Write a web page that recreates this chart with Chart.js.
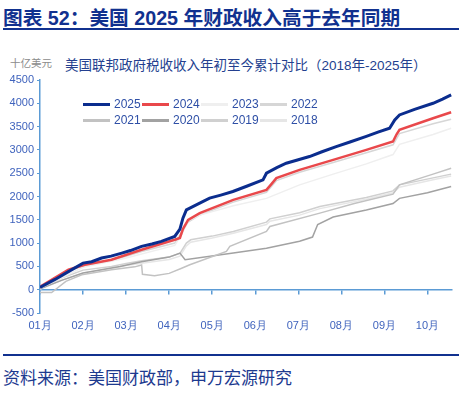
<!DOCTYPE html>
<html>
<head>
<meta charset="utf-8">
<script src="https://cdn.jsdelivr.net/npm/chart.js@4/dist/chart.umd.min.js"></script>
<style>
  body { margin: 0; background: #fff; font-family: "Liberation Sans", "Noto Sans CJK SC", sans-serif; }
  #page { position: relative; width: 463px; height: 393px; overflow: hidden; }
  #title { position: absolute; left: 3px; top: 2px; font-size: 19.7px; font-weight: bold; color: #11318f; white-space: nowrap; }
  .rule { position: absolute; left: 3px; width: 456px; height: 2px; background: #11318f; }
  #unit { position: absolute; left: 10px; top: 55px; font-size: 10.5px; color: #8c8c8c; }
  #subtitle { position: absolute; left: 65px; top: 54px; font-size: 13.5px; color: #243f8f; white-space: nowrap; }
  #chartbox { position: absolute; left: 0; top: 70px; width: 463px; height: 276px; }
  #legend { position: absolute; left: 0; top: 0; }
  .item { position: absolute; display: flex; align-items: center; font-size: 12px; color: #2e4fa6; }
  .item span.sw { display: inline-block; width: 27px; height: 3px; margin-right: 4px; }
  #source { position: absolute; left: 3px; top: 364px; font-size: 17px; color: #1d3a8f; white-space: nowrap; }
</style>
</head>
<body>
<div id="page">
  <div id="title">图表 52：美国 2025 年财政收入高于去年同期</div>
  <div class="rule" style="top:28px"></div>
  <div id="unit">十亿美元</div>
  <div id="subtitle">美国联邦政府税收收入年初至今累计对比（2018年-2025年）</div>
  <div id="chartbox"><canvas id="chart"></canvas></div>
  <div id="legend"></div>
  <div class="rule" style="top:354px"></div>
  <div id="source">资料来源：美国财政部，申万宏源研究</div>
</div>
<script>
// x = months since Jan 1 (0 = 01月, 1 = 02月 ...), y = 十亿美元
const monthLabels = ['01月', '02月', '03月', '04月', '05月', '06月', '07月', '08月', '09月', '10月'];
const years = ['2025', '2024', '2023', '2022', '2021', '2020', '2019', '2018'];

const x2025 = [0, 0.35, 0.74, 1.0, 1.2, 1.43, 1.65, 1.9, 2.1, 2.36, 2.6, 2.82, 3.13, 3.25, 3.32, 3.4, 3.71, 3.94, 4.2, 4.48, 4.8, 5.18, 5.26, 5.5, 5.72, 6.0, 6.26, 6.55, 6.88, 7.2, 7.58, 7.85, 8.12, 8.24, 8.35, 8.7, 9.13, 9.35, 9.55];
const y2025 = [50, 220, 430, 571, 600, 679, 720, 786, 840, 929, 980, 1036, 1143, 1300, 1536, 1714, 1857, 1964, 2030, 2107, 2220, 2357, 2500, 2620, 2714, 2790, 2857, 2960, 3071, 3170, 3290, 3380, 3464, 3643, 3750, 3870, 4000, 4090, 4179];

const x2024 = [0, 0.04, 0.66, 1.04, 1.66, 2.36, 3.13, 3.25, 3.32, 3.44, 3.71, 4.49, 5.26, 5.36, 5.49, 6.03, 6.81, 7.58, 8.2, 8.28, 8.35, 9.13, 9.55];
const y2024 = [40, 86, 429, 536, 643, 857, 1071, 1110, 1300, 1500, 1643, 1929, 2143, 2250, 2393, 2571, 2786, 3000, 3179, 3330, 3429, 3679, 3807];

const x2023 = [0, 1.0, 2.0, 3.13, 3.3, 3.44, 3.71, 4.49, 5.26, 6.03, 6.81, 7.58, 8.2, 8.35, 9.13, 9.55];
const y2023 = [30, 480, 680, 950, 1200, 1480, 1600, 1800, 1960, 2250, 2480, 2700, 2900, 3120, 3330, 3464];

const x2022 = [0, 0.6, 1.0, 1.66, 2.36, 3.13, 3.3, 3.44, 3.71, 4.49, 5.26, 5.49, 6.03, 6.81, 7.58, 8.2, 8.35, 9.13, 9.55];
const y2022 = [30, 380, 510, 620, 820, 1000, 1250, 1450, 1600, 1880, 2090, 2340, 2520, 2730, 2940, 3110, 3350, 3560, 3657];

const x2021 = [0, 0.27, 0.6, 0.97, 1.66, 2.2, 2.36, 2.38, 2.66, 3.0, 3.29, 3.48, 4.33, 4.41, 5.26, 5.34, 6.5, 7.3, 8.2, 8.35, 9.13, 9.55];
const y2021 = [-60, -60, 180, 320, 430, 490, 530, 330, 300, 350, 460, 535, 820, 930, 1250, 1357, 1643, 1850, 2050, 2250, 2480, 2607];

const x2020 = [0, 0.5, 1.0, 1.86, 2.36, 3.0, 3.25, 3.37, 4.49, 5.26, 6.03, 6.33, 6.45, 6.81, 7.58, 8.2, 8.35, 9.0, 9.55];
const y2020 = [20, 200, 360, 500, 600, 700, 786, 643, 790, 890, 1040, 1130, 1400, 1560, 1710, 1850, 1960, 2080, 2214];

const x2019 = [0, 0.5, 1.0, 1.66, 2.0, 2.36, 3.0, 3.25, 3.4, 3.5, 4.0, 4.49, 5.26, 5.34, 6.03, 6.5, 7.58, 8.2, 8.35, 9.13, 9.55];
const y2019 = [20, 250, 420, 500, 560, 620, 700, 780, 1000, 1071, 1150, 1250, 1450, 1520, 1650, 1786, 1980, 2120, 2250, 2400, 2480];

const x2018 = [0, 0.5, 1.0, 1.66, 2.0, 2.36, 3.0, 3.25, 3.4, 3.5, 4.0, 4.49, 5.26, 5.34, 6.03, 6.5, 7.58, 8.2, 8.35, 9.13, 9.55];
const y2018 = [10, 200, 360, 460, 520, 570, 650, 720, 940, 1020, 1110, 1210, 1400, 1470, 1600, 1740, 1940, 2080, 2200, 2360, 2440];

const seriesX = [x2025, x2024, x2023, x2022, x2021, x2020, x2019, x2018];
const seriesY = [y2025, y2024, y2023, y2022, y2021, y2020, y2019, y2018];
const colors = ['#0b2d8e', '#e9484b', '#efefef', '#d6d6d6', '#c2c2c2', '#a2a2a2', '#d0d0d0', '#e6e6e6'];
const widths = [3, 2.5, 1.5, 1.5, 1.5, 1.5, 1.5, 1.5];

const axisBlue = '#5b9bd5';
const tickBlue = '#3f63bd';

const datasets = years.map((yr, i) => ({
  label: yr,
  data: seriesX[i].map((x, j) => ({ x: x, y: seriesY[i][j] })),
  borderColor: colors[i],
  backgroundColor: colors[i],
  borderWidth: widths[i],
  pointRadius: 0,
  tension: 0
}));

const ctx = document.getElementById('chart');
const chart = new Chart(ctx, {
  type: 'line',
  data: { datasets: datasets },
  options: {
    responsive: true,
    maintainAspectRatio: false,
    animation: false,
    layout: { padding: { top: 10, right: 11, left: 0, bottom: 0 } },
    plugins: { legend: { display: false }, tooltip: { enabled: false } },
    scales: {
      x: {
        type: 'linear',
        min: 0,
        max: 9.57,
        border: { display: false },
        grid: { display: false, drawTicks: false },
        afterBuildTicks: (scale) => { scale.ticks = monthLabels.map((m, i) => ({ value: i })); },
        afterFit: (scale) => { scale.height = 33; },
        ticks: {
          padding: 6,
          color: tickBlue,
          font: { family: 'Liberation Sans', size: 11 },
          callback: (v) => monthLabels[v]
        }
      },
      x0: {
        type: 'linear',
        min: 0,
        max: 9.57,
        position: { y: 0 },
        border: { display: true, color: axisBlue, width: 1.5 },
        grid: { drawOnChartArea: false, drawTicks: true, tickLength: 4, color: axisBlue, lineWidth: 1.5 },
        afterBuildTicks: (scale) => { scale.ticks = monthLabels.map((m, i) => ({ value: i })); },
        ticks: { display: false }
      },
      y: {
        min: -500,
        max: 4500,
        afterFit: (scale) => { scale.width = 40; },
        border: { display: true, color: axisBlue, width: 1.5 },
        grid: { drawOnChartArea: false, drawTicks: true, tickLength: 3, color: axisBlue },
        ticks: {
          stepSize: 500,
          padding: 3,
          color: tickBlue,
          font: { family: 'Liberation Sans', size: 11 },
          callback: (v) => String(v)
        }
      }
    }
  }
});

// legend laid out in two rows inside the plot area, as in the source figure
const legend = document.getElementById('legend');
chart.data.datasets.forEach((ds, i) => {
  const item = document.createElement('div');
  item.className = 'item';
  item.style.left = (83 + (i % 4) * 59) + 'px';
  item.style.top = (97 + Math.floor(i / 4) * 16) + 'px';
  const sw = document.createElement('span');
  sw.className = 'sw';
  sw.style.background = ds.borderColor;
  item.appendChild(sw);
  item.appendChild(document.createTextNode(ds.label));
  legend.appendChild(item);
});
</script>
</body>
</html>
